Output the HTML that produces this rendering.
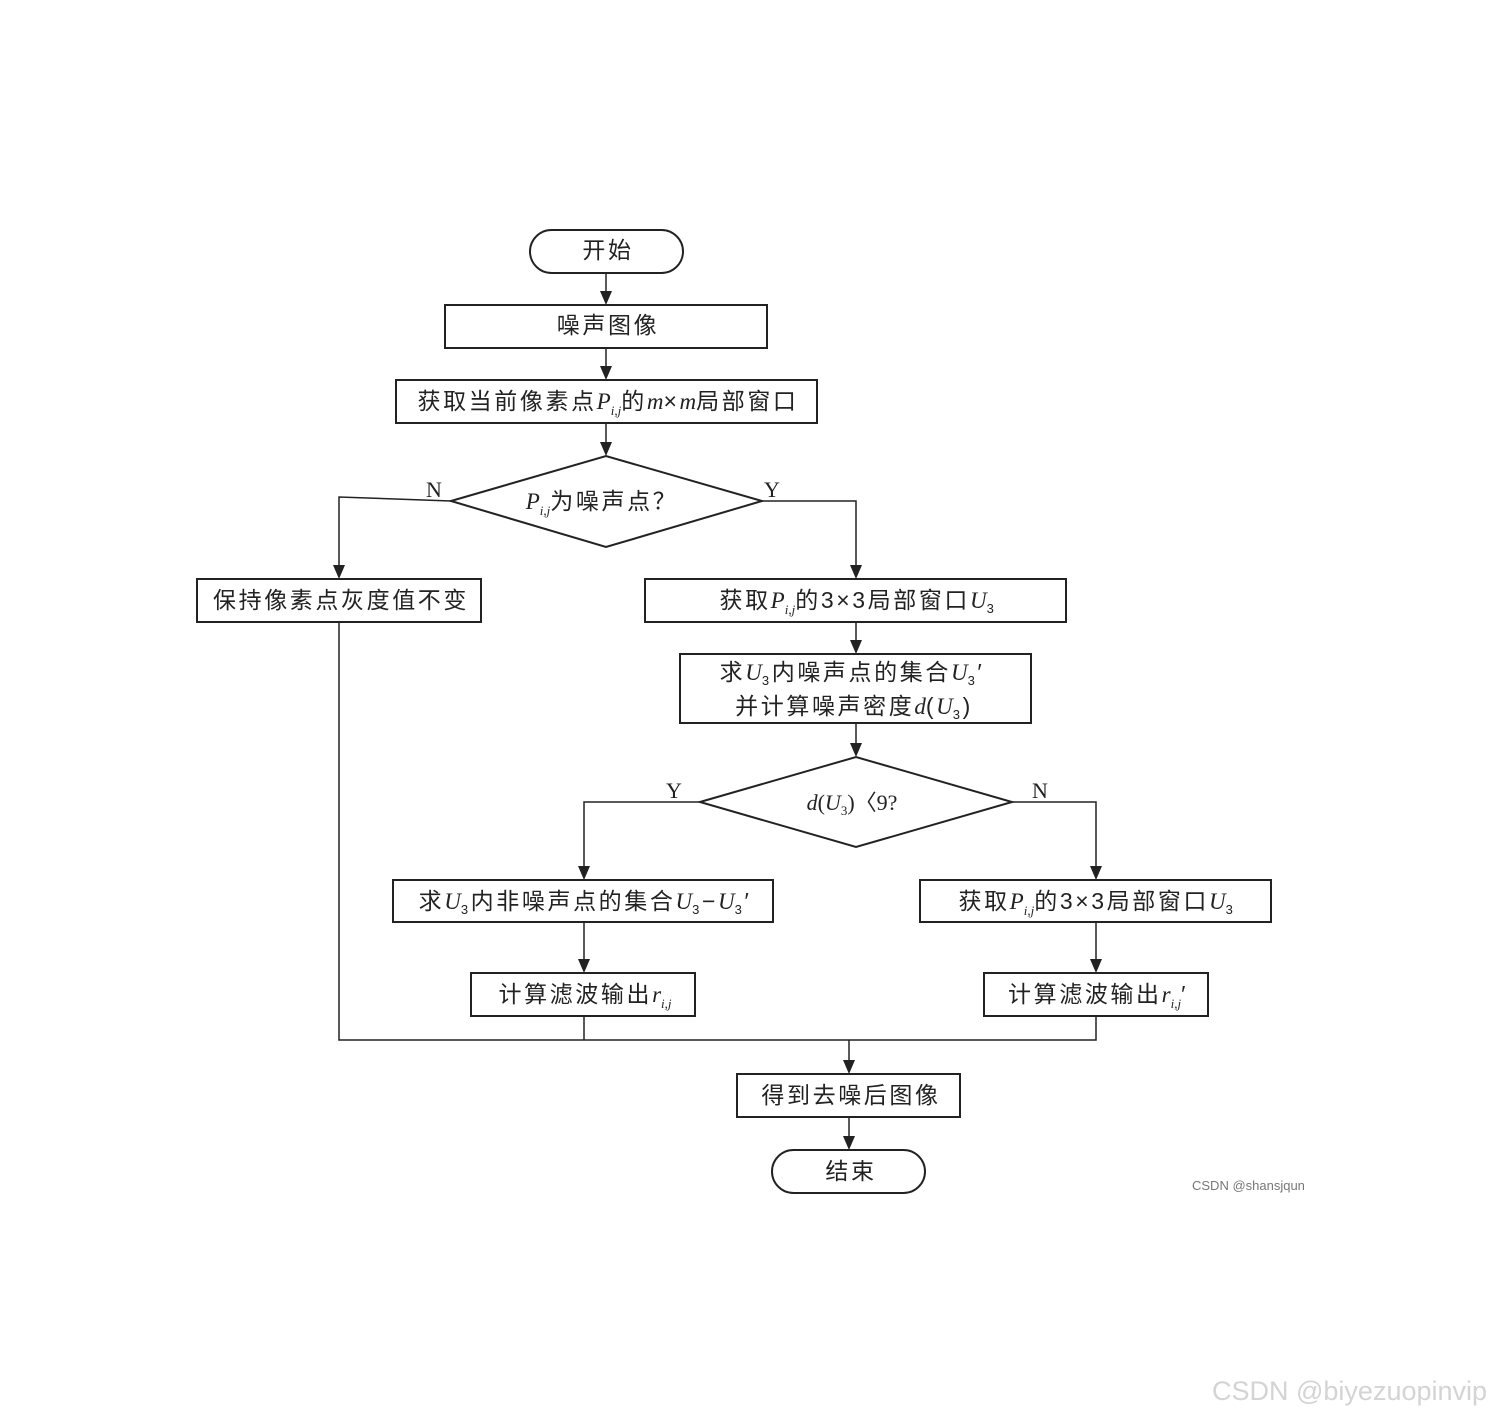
<!DOCTYPE html>
<html><head><meta charset="utf-8"><style>
html,body{margin:0;padding:0;background:#fff;}
svg{display:block;}
text{font-family:"Liberation Serif","Noto Sans CJK SC",sans-serif;font-size:22px;fill:#222;}
.c{font-family:"Liberation Sans","Noto Sans CJK SC",sans-serif;font-size:23px;letter-spacing:2.6px;}
.i{font-family:"Liberation Serif",serif;font-style:italic;letter-spacing:0;}
</style></head><body>
<svg width="1491" height="1416" viewBox="0 0 1491 1416" xmlns="http://www.w3.org/2000/svg">
<g stroke="#222" stroke-width="2" fill="none">
<rect x="530" y="230" width="153" height="43" rx="21.5"/>
<rect x="445" y="305" width="322" height="43"/>
<rect x="396" y="380" width="421" height="43"/>
<path d="M451,501 L606,456 L762,501 L606,547 Z"/>
<rect x="197" y="579" width="284" height="43"/>
<rect x="645" y="579" width="421" height="43"/>
<rect x="680" y="654" width="351" height="69"/>
<path d="M700,802 L856,757 L1012,802 L856,847 Z"/>
<rect x="393" y="880" width="380" height="42"/>
<rect x="920" y="880" width="351" height="42"/>
<rect x="471" y="973" width="224" height="43"/>
<rect x="984" y="973" width="224" height="43"/>
<rect x="737" y="1074" width="223" height="43"/>
<rect x="772" y="1150" width="153" height="43" rx="21.5"/>
</g>
<g stroke="#222" stroke-width="1.5" fill="none">
<path d="M606,273 V291" /><path d="M606,348 V366"/><path d="M606,423 V442"/>
<path d="M451,501 L339,497 V565"/>
<path d="M762,501 H856 V565"/>
<path d="M856,622 V640"/><path d="M856,723 V743"/>
<path d="M700,802 H584 V866"/>
<path d="M1012,802 H1096 V866"/>
<path d="M584,922 V959"/><path d="M1096,922 V959"/>
<path d="M339,622 V1040 H1096 V1016"/><path d="M584,1016 V1040"/>
<path d="M849,1040 V1060"/><path d="M849,1117 V1136"/>
</g>
<g fill="#222">
<path d="M600,291 L612,291 L606,305 Z"/><path d="M600,366 L612,366 L606,380 Z"/><path d="M600,442 L612,442 L606,456 Z"/>
<path d="M333,565 L345,565 L339,579 Z"/><path d="M850,565 L862,565 L856,579 Z"/>
<path d="M850,640 L862,640 L856,654 Z"/><path d="M850,743 L862,743 L856,757 Z"/>
<path d="M578,866 L590,866 L584,880 Z"/><path d="M1090,866 L1102,866 L1096,880 Z"/>
<path d="M578,959 L590,959 L584,973 Z"/><path d="M1090,959 L1102,959 L1096,973 Z"/>
<path d="M843,1060 L855,1060 L849,1074 Z"/><path d="M843,1136 L855,1136 L849,1150 Z"/>
</g>
<g text-anchor="middle">
<text x="608" y="258" class="c">开始</text>
<text x="608" y="333" class="c">噪声图像</text>
<text x="608" y="409" class="c">获取当前像素点<tspan class="i">P</tspan><tspan class="i" font-size="13" dy="6">i,j</tspan><tspan dy="-6">的</tspan><tspan class="i">m</tspan>×<tspan class="i">m</tspan>局部窗口</text>
<text x="602" y="509" class="c"><tspan class="i">P</tspan><tspan class="i" font-size="13" dy="6">i,j</tspan><tspan dy="-6">为噪声点？</tspan></text>
<text x="341" y="608" class="c">保持像素点灰度值不变</text>
<text x="858" y="608" class="c">获取<tspan class="i">P</tspan><tspan class="i" font-size="13" dy="6">i,j</tspan><tspan dy="-6">的3×3局部窗口</tspan><tspan class="i">U</tspan><tspan font-size="13" dy="5">3</tspan></text>
<text x="852" y="680" class="c">求<tspan class="i">U</tspan><tspan font-size="13" dy="5">3</tspan><tspan dy="-5">内噪声点的集合</tspan><tspan class="i">U</tspan><tspan font-size="13" dy="5">3</tspan><tspan dy="-5">′</tspan></text>
<text x="854" y="714" class="c">并计算噪声密度<tspan class="i">d</tspan>(<tspan class="i">U</tspan><tspan font-size="13" dy="5">3</tspan><tspan dy="-5">)</tspan></text>
<text x="852" y="810"><tspan class="i">d</tspan>(<tspan class="i">U</tspan><tspan font-size="13" dy="5">3</tspan><tspan dy="-5">)〈9?</tspan></text>
<text x="585" y="909" class="c">求<tspan class="i">U</tspan><tspan font-size="13" dy="5">3</tspan><tspan dy="-5">内非噪声点的集合</tspan><tspan class="i">U</tspan><tspan font-size="13" dy="5">3</tspan><tspan dy="-5">−</tspan><tspan class="i">U</tspan><tspan font-size="13" dy="5">3</tspan><tspan dy="-5">′</tspan></text>
<text x="1097" y="909" class="c">获取<tspan class="i">P</tspan><tspan class="i" font-size="13" dy="6">i,j</tspan><tspan dy="-6">的3×3局部窗口</tspan><tspan class="i">U</tspan><tspan font-size="13" dy="5">3</tspan></text>
<text x="585" y="1002" class="c">计算滤波输出<tspan class="i">r</tspan><tspan class="i" font-size="13" dy="6">i,j</tspan></text>
<text x="1098" y="1002" class="c">计算滤波输出<tspan class="i">r</tspan><tspan class="i" font-size="13" dy="6">i,j</tspan><tspan dy="-6">′</tspan></text>
<text x="851" y="1103" class="c">得到去噪后图像</text>
<text x="851" y="1179" class="c">结束</text>
</g>
<text x="426" y="497">N</text>
<text x="764" y="497">Y</text>
<text x="666" y="798">Y</text>
<text x="1032" y="798">N</text>
<text x="1192" y="1190" style="font-family:'Liberation Sans',sans-serif;font-size:13px;fill:#777">CSDN @shansjqun</text>
<text x="1212" y="1400" style="font-family:'Liberation Sans',sans-serif;font-size:27px;fill:#d4d4d4">CSDN @biyezuopinvip</text>
</svg>
</body></html>
